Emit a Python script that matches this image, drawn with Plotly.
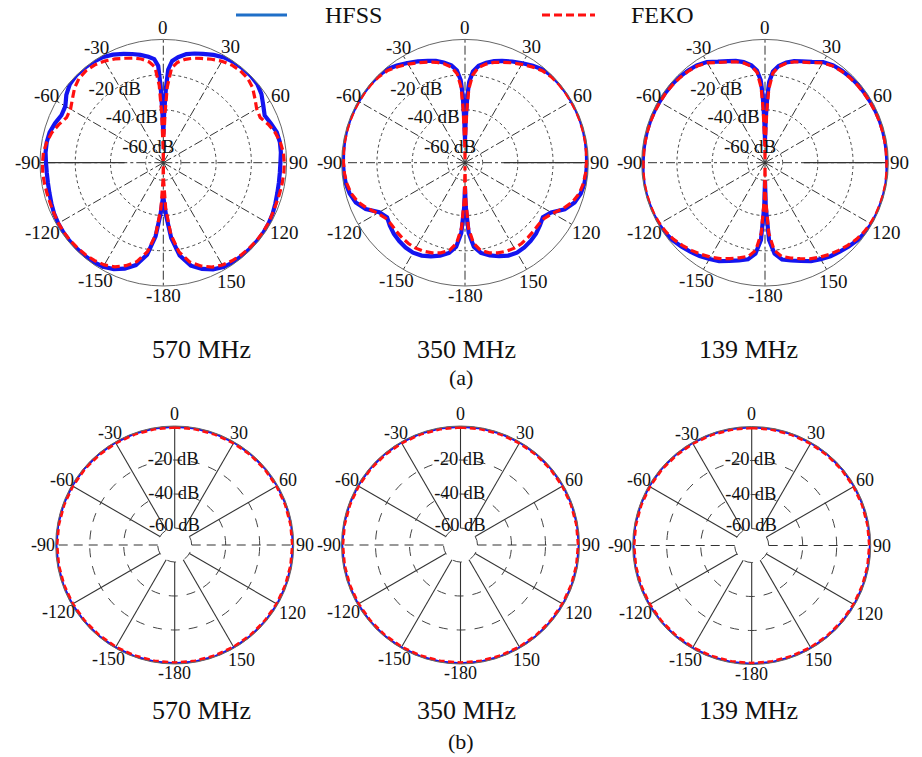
import math
import plotly.graph_objects as go

W, H = 922, 757
SERIF = "Liberation Serif"

# ---------------- data ----------------
ANG_TICKS = [0, 30, 60, 90, 120, 150, 180, 210, 240, 270, 300, 330]
ANG_LABELS = ["0", "30", "60", "90", "120", "150", "-180", "-150", "-120", "-90", "-60", "-30"]
DB_TICKS = [-60, -40, -20]
DB_LABELS = ["-60 dB", "-40 dB", "-20 dB"]
FREQS = ["570 MHz", "350 MHz", "139 MHz"]

THETA_R = [0, 1, 2, 3, 5, 8, 12, 16, 20, 25, 30, 35, 40, 45, 50, 55, 60, 65, 70, 75, 80, 85,
           90, 95, 100, 105, 110, 115, 120, 125, 130, 135, 140, 145, 150, 155, 160, 165, 170,
           174, 177, 179, 180]
THETA_L = [0, -1, -2, -3, -5, -8, -12, -16, -20, -25, -30, -35, -40, -45, -50, -55, -60, -65,
           -70, -75, -80, -85, -90, -95, -100, -105, -110, -115, -120, -125, -130, -135, -140,
           -145, -150, -155, -160, -165, -170, -174, -177, -179, -180]

# (a) 570 MHz
HFSS_570_R = [-54, -42, -28, -17, -12, -9.5, -7, -5.5, -4.2, -2.5, -1, -0.3, 0, 0, -0.4, -2, -4.5,
              -6.5, -5, -3.3, -2.8, -3, -3.5, -3.6, -3.4, -3, -2.3, -1.5, -1, -0.7, -0.6, -0.7,
              -0.8, -1, -1.6, -3.2, -5.8, -9.5, -16.5, -27, -40, -48, -51]
HFSS_570_L = [-54, -42, -27, -15, -11, -9.3, -7.4, -5.8, -4.3, -2.3, -0.9, -0.2, 0, 0, -0.7, -2.8,
              -5.8, -6.2, -4.6, -3.2, -2.8, -2.9, -3.4, -3.6, -3.5, -3.1, -2.4, -1.6, -1.1, -0.8,
              -0.7, -0.8, -0.9, -1.1, -1.8, -3.4, -6, -9.8, -17, -28, -41, -49, -51]
FEKO_570_R = [-69, -60, -42, -27, -16, -12.5, -10, -8.3, -7, -5.2, -3.5, -2.3, -1.9, -2.2, -3.8,
              -6.5, -8.8, -9.3, -6.5, -4.2, -2.6, -1.6, -1.3, -1.3, -1.5, -1.7, -1.8, -1.6, -1.2,
              -1, -1, -1.2, -1.5, -2, -2.9, -4.6, -7.6, -11.6, -18.5, -29, -44, -60, -69]
FEKO_570_L = [-69, -60, -41, -26, -15.5, -12.2, -9.8, -8.2, -6.9, -5, -3.4, -2.2, -1.8, -2.3,
              -4.2, -7, -9.2, -9.4, -6.8, -4.4, -2.8, -1.7, -1.4, -1.3, -1.5, -1.7, -1.8, -1.6,
              -1.3, -1.1, -1.1, -1.3, -1.6, -2.1, -3, -4.8, -7.8, -11.8, -18.8, -29, -44, -60, -69]

# (a) 350 MHz
HFSS_350_R = [-57, -45, -32, -24, -18, -14.5, -12, -10, -8.5, -6.6, -4.8, -2.8, -1, -0.2, 0, 0, 0,
              0, 0, -0.1, -0.3, -0.5, -0.7, -0.9, -1.2, -2, -3.8, -7.5, -13.5, -16, -14.5, -13,
              -12, -11.3, -11, -11.8, -13.5, -15.5, -18, -22, -30, -45, -56]
HFSS_350_L = [-57, -45, -31, -23, -17.5, -14.2, -11.8, -9.9, -8.4, -6.5, -4.6, -2.6, -0.9, -0.2,
              0, 0, 0, 0, 0, -0.1, -0.3, -0.5, -0.7, -0.9, -1.3, -2.2, -4, -7.8, -13.8, -16,
              -14.3, -12.9, -11.9, -11.2, -11, -11.8, -13.4, -15.4, -18, -22, -30, -45, -56]
FEKO_350_R = [-68, -58, -40, -28, -20, -15.5, -12.8, -10.8, -9.3, -7.4, -5.5, -3.6, -1.8, -0.9,
              -0.5, -0.4, -0.4, -0.4, -0.4, -0.5, -0.6, -0.8, -1, -1.3, -1.8, -2.8, -5, -8.5,
              -12.5, -15, -15.5, -15, -14.5, -14, -14, -14.5, -15.5, -17, -19.5, -24, -33, -50, -68]
FEKO_350_L = [-68, -58, -39, -27, -19.5, -15.2, -12.6, -10.7, -9.2, -7.3, -5.4, -3.5, -1.7, -0.9,
              -0.5, -0.4, -0.4, -0.4, -0.4, -0.5, -0.6, -0.8, -1, -1.3, -1.9, -3, -5.2, -8.7,
              -12.7, -15, -15.4, -14.9, -14.4, -14, -14, -14.5, -15.5, -17, -19.5, -24, -33, -50, -68]

# (a) 139 MHz
HFSS_139_R = [-57, -45, -32, -24, -18, -14.5, -11.8, -10, -8.7, -6.8, -4, -2.5, -1.9, -1.4, -1.1,
              -1, -0.9, -0.7, -0.6, -0.6, -0.6, -0.6, -0.5, -0.2, 0, 0, 0, 0, -0.2, -0.7, -1.5,
              -2.8, -4, -5.2, -6.8, -8.3, -10.6, -12.5, -14.2, -18, -26, -45, -60]
HFSS_139_L = [-57, -45, -31, -23, -17.5, -14.2, -11.6, -9.9, -8.6, -6.7, -4, -2.5, -1.8, -1.3,
              -1, -0.9, -0.8, -0.7, -0.6, -0.6, -0.6, -0.6, -0.5, -0.2, 0, 0, 0, 0, -0.2, -0.7,
              -1.5, -2.8, -4, -5.3, -6.9, -8.4, -10.7, -12.6, -14.3, -18, -26, -45, -60]
FEKO_139_R = [-68, -58, -40, -28, -19, -15, -12.3, -10.5, -9.2, -7.3, -4.6, -3, -2.3, -1.8, -1.5,
              -1.3, -1.2, -1, -0.9, -0.9, -0.9, -0.9, -0.8, -0.6, -0.4, -0.4, -0.4, -0.5, -0.8,
              -1.4, -2.3, -3.6, -5, -6.4, -8, -9.8, -12, -14, -16, -20, -30, -50, -68]
FEKO_139_L = [-68, -58, -39, -27, -18.5, -14.8, -12.2, -10.4, -9.1, -7.2, -4.6, -3, -2.2, -1.7,
              -1.4, -1.2, -1.1, -1, -0.9, -0.9, -0.9, -0.9, -0.8, -0.6, -0.4, -0.4, -0.4, -0.5,
              -0.8, -1.4, -2.3, -3.6, -5, -6.5, -8.1, -9.9, -12.1, -14.1, -16.1, -20, -30, -50, -68]

# (b) omnidirectional patterns
THETA_B = [0, 10, 20, 30, 40, 50, 60, 70, 80, 90, 100, 110, 120, 130, 140, 150, 160, 170, 180,
           190, 200, 210, 220, 230, 240, 250, 260, 270, 280, 290, 300, 310, 320, 330, 340, 350, 360]
HFSS_B = [0, 0, 0, 0, 0, 0, 0, 0, 0, 0, 0, 0, 0, 0, 0, 0, 0, 0, 0,
          0, 0, 0, 0, 0, 0, 0, 0, 0, 0, 0, 0, 0, 0, 0, 0, 0, 0]
FEKO_B = [0, 0, 0, 0, 0, 0, 0, 0, 0, 0, 0, 0, 0, 0, 0, 0, 0, 0, 0,
          0, 0, 0, 0, 0, 0, 0, 0, 0, 0, 0, 0, 0, 0, 0, 0, 0, 0]

TOP_SERIES = [
    (HFSS_570_R, HFSS_570_L, FEKO_570_R, FEKO_570_L),
    (HFSS_350_R, HFSS_350_L, FEKO_350_R, FEKO_350_L),
    (HFSS_139_R, HFSS_139_L, FEKO_139_R, FEKO_139_L),
]

# ---------------- layout constants ----------------
TOP_CENTERS = [(163.3, 162.7), (465.0, 162.7), (765.0, 162.7)]
TOP_R = 123.3
BOT_CENTERS = [(174.7, 545.0), (460.5, 545.0), (751.7, 545.5)]
BOT_R = 119.0
R_RANGE = [-70, 0]
SPOKE_MIN = -60
# distance (px) from the outer circle to the centre of each angular tick label
LABEL_PAD_PX = [12.4, 10.5, 12, 11.4, 17, 13.7, 9, 13, 15.7, 12.5, 11.5, 10]

BLUE = "#1414f0"
RED = "#ff1010"
GRID = "#333333"
TXT = "#111111"

fig = go.Figure()
annotations = []


def domain(cx, cy, R):
    return dict(x=[(cx - R) / W, (cx + R) / W], y=[1 - (cy + R) / H, 1 - (cy - R) / H])


def polar_layout(cx, cy, R, top):
    return dict(
        domain=domain(cx, cy, R),
        bgcolor="white",
        angularaxis=dict(
            rotation=90, direction="clockwise", tickmode="array",
            tickvals=ANG_TICKS, ticktext=ANG_LABELS, showticklabels=False,
            showline=True, linecolor="#666666", linewidth=1, ticks="",
            showgrid=top, gridcolor=GRID, griddash="dashdot", gridwidth=1,
        ),
        radialaxis=dict(
            range=R_RANGE, tickvals=DB_TICKS,
            showticklabels=False, ticks="", showline=False,
            gridcolor="#444444", griddash="dot" if top else "dash", gridwidth=1,
        ),
    )


def add_tick_labels(cx, cy, R, size):
    for ang, lab, pad in zip(ANG_TICKS, ANG_LABELS, LABEL_PAD_PX):
        a = math.radians(ang)
        px = cx + (R + pad) * math.sin(a)
        py = cy - (R + pad) * math.cos(a)
        annotations.append(dict(x=px / W, y=1 - py / H, xref="paper", yref="paper", text=lab,
                                showarrow=False, xanchor="center", yanchor="middle",
                                borderpad=0, font=dict(family=SERIF, size=size, color=TXT)))


layout_polars = {}
# top row
for i, (cx, cy) in enumerate(TOP_CENTERS):
    sub = "polar" if i == 0 else f"polar{i + 1}"
    layout_polars[sub] = polar_layout(cx, cy, TOP_R, True)
    hr, hl, fr, fl = TOP_SERIES[i]
    seg_theta = 270 if i == 0 else 90
    fig.add_trace(go.Scatterpolar(r=[-48, 0], theta=[seg_theta, seg_theta], mode="lines",
                                  line=dict(color=GRID, width=1.2), subplot=sub,
                                  showlegend=False, hoverinfo="skip"))
    fig.add_trace(go.Scatterpolar(r=hr + hl[::-1], theta=THETA_R + THETA_L[::-1], mode="lines",
                                  line=dict(color=BLUE, width=4.2), subplot=sub,
                                  name="HFSS", showlegend=False))
    fig.add_trace(go.Scatterpolar(r=fr + fl[::-1], theta=THETA_R + THETA_L[::-1], mode="lines",
                                  line=dict(color=RED, width=3.2, dash="8px,4px"), subplot=sub,
                                  name="FEKO", showlegend=False))
    fig.add_trace(go.Scatterpolar(r=[-58.2, -39.3, -20.3], theta=[-46, -35.5, -33.7], mode="text",
                                  text=DB_LABELS, textposition="middle center",
                                  textfont=dict(family=SERIF, size=19, color=TXT),
                                  subplot=sub, showlegend=False, hoverinfo="skip"))
    add_tick_labels(cx, cy, TOP_R, 19)

# bottom row
for i, (cx, cy) in enumerate(BOT_CENTERS):
    sub = f"polar{i + 4}"
    layout_polars[sub] = polar_layout(cx, cy, BOT_R, False)
    solid_r, solid_t, dash_r, dash_t = [], [], [], []
    for a in ANG_TICKS:
        if a in (90, 270):
            dash_r += [SPOKE_MIN, R_RANGE[1], None]
            dash_t += [a, a, None]
        else:
            solid_r += [SPOKE_MIN, R_RANGE[1], None]
            solid_t += [a, a, None]
    fig.add_trace(go.Scatterpolar(r=solid_r, theta=solid_t, mode="lines",
                                  line=dict(color=GRID, width=1.1), subplot=sub,
                                  showlegend=False, hoverinfo="skip", connectgaps=False))
    fig.add_trace(go.Scatterpolar(r=dash_r, theta=dash_t, mode="lines",
                                  line=dict(color=GRID, width=1.1, dash="9px,6px"), subplot=sub,
                                  showlegend=False, hoverinfo="skip", connectgaps=False))
    fig.add_trace(go.Scatterpolar(r=HFSS_B, theta=THETA_B, mode="lines",
                                  line=dict(color=BLUE, width=3.5), subplot=sub,
                                  name="HFSS", showlegend=False))
    fig.add_trace(go.Scatterpolar(r=FEKO_B, theta=THETA_B, mode="lines",
                                  line=dict(color=RED, width=5.5, dash="6px,3.5px"), subplot=sub,
                                  name="FEKO", showlegend=False))
    fig.add_trace(go.Scatterpolar(r=[-59, -40.5, -20], theta=[-1, -1, -1], mode="text",
                                  text=DB_LABELS, textposition="middle center",
                                  textfont=dict(family=SERIF, size=18.5, color=TXT),
                                  subplot=sub, showlegend=False, hoverinfo="skip"))
    add_tick_labels(cx, cy, BOT_R, 18)

cap_x = [201, 466, 748]
for i, f in enumerate(FREQS):
    for cy in (349, 710):
        annotations.append(dict(x=cap_x[i] / W, y=1 - cy / H, xref="paper", yref="paper",
                                text=f, showarrow=False, xanchor="center", yanchor="middle",
                                borderpad=0, font=dict(family=SERIF, size=26, color=TXT)))
annotations.append(dict(x=461 / W, y=1 - 377 / H, xref="paper", yref="paper", text="(a)",
                        showarrow=False, xanchor="center", yanchor="middle", borderpad=0,
                        font=dict(family=SERIF, size=22, color=TXT)))
annotations.append(dict(x=461 / W, y=0.002, xref="paper", yref="paper", text="(b)",
                        showarrow=False, xanchor="center", yanchor="bottom", borderpad=0,
                        font=dict(family=SERIF, size=22, color=TXT)))
# legend texts
annotations.append(dict(x=324 / W, y=1 - 15 / H, xref="paper", yref="paper", text="HFSS",
                        showarrow=False, xanchor="left", yanchor="middle", borderpad=0,
                        font=dict(family=SERIF, size=24, color=TXT)))
annotations.append(dict(x=630 / W, y=1 - 15 / H, xref="paper", yref="paper", text="FEKO",
                        showarrow=False, xanchor="left", yanchor="middle", borderpad=0,
                        font=dict(family=SERIF, size=24, color=TXT)))

shapes = [
    dict(type="line", xref="paper", yref="paper", x0=236 / W, x1=287 / W, y0=1 - 15 / H,
         y1=1 - 15 / H, line=dict(color="#1f6fc8", width=3)),
    dict(type="line", xref="paper", yref="paper", x0=542 / W, x1=595 / W, y0=1 - 15 / H,
         y1=1 - 15 / H, line=dict(color=RED, width=3, dash="8px,4px")),
]

fig.update_layout(
    width=W, height=H, margin=dict(l=0, r=0, t=0, b=0),
    paper_bgcolor="white", plot_bgcolor="white",
    showlegend=False, annotations=annotations, shapes=shapes,
    **layout_polars,
)

fig.write_html("out.html")
